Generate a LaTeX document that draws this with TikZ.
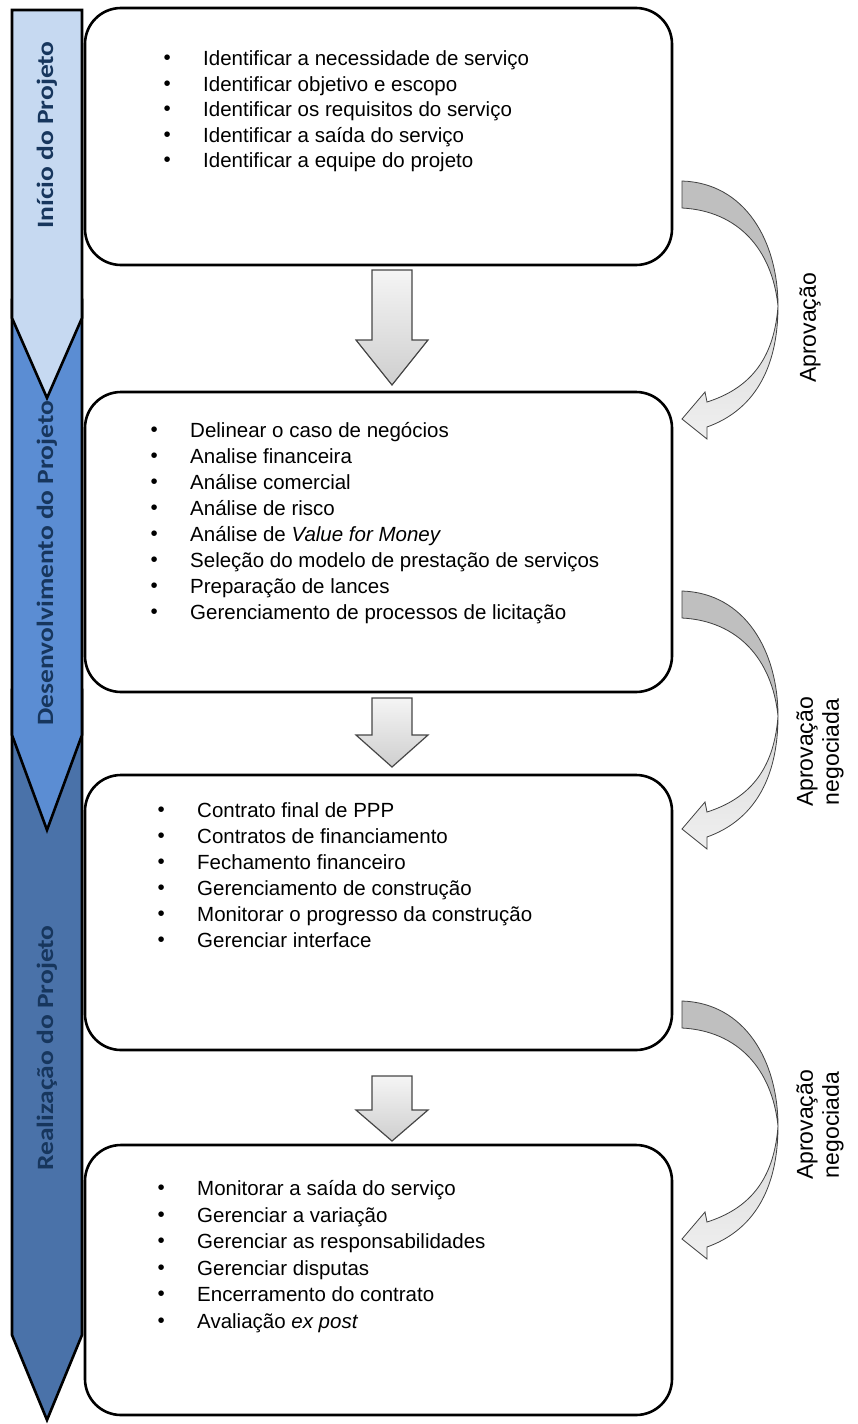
\documentclass[tikz,border=0pt]{standalone}
\usepackage{fontspec}
\setmainfont{Liberation Sans}
\newfontfamily\bandfont{Carlito}
\usepackage{graphicx}
\usepackage{xcolor}
\usepackage{tikz}
\usetikzlibrary{positioning, calc}

\definecolor{bandlight}{HTML}{C6D9F1}
\definecolor{bandmid}{HTML}{5B8DD3}
\definecolor{banddark}{HTML}{4A72A9}
\definecolor{bandtext}{HTML}{17365D}

\newcommand{\phasetext}[1]{\scalebox{1}[0.85]{#1}}

\tikzset{
  band/.style={draw=black, line width=2.6pt},
  bandlabel/.style={rotate=90, text=bandtext, inner sep=0pt, font=\bandfont\bfseries\fontsize{27.5}{32}\selectfont},
  panel/.style={draw=black, line width=2.6pt, rounded corners=36pt, fill=white, inner sep=0pt, minimum width=587pt},
  item/.style={anchor=west, inner sep=0pt, text height=15pt, text depth=4pt,
    font=\fontsize{20.5}{25}\selectfont,
    label={[inner sep=0pt, label distance=32pt, font=\fontsize{20.5}{25}\selectfont]left:\textbullet}},
  blockarrow/.style={draw=gray!55!black, line width=1.2pt, line join=miter, top color=gray!8, bottom color=gray!38},
  backside/.style={draw=black!75, line width=0.8pt, fill=gray!50},
  frontside/.style={draw=black!75, line width=0.8pt, top color=gray!30, bottom color=gray!12},
  approval/.style={rotate=90, align=center, font=\fontsize{23}{26}\selectfont}
}

% curved arrow at the right, #1 = top of its tail
\newcommand{\bentarrow}[1]{%
  \begin{scope}[shift={(0,#1)}]
    \draw[backside] (682,0) .. controls (745,2) and (778,60) .. (778,125)
      .. controls (772,68) and (738,30) .. (682,27) -- cycle;
    \draw[frontside] (778,125) .. controls (778,190) and (752,230) .. (707,246)
      -- (707,258) -- (682,238) -- (705,211) -- (707,221)
      .. controls (748,208) and (774,180) .. (778,125) -- cycle;
  \end{scope}}

\begin{document}
\begin{tikzpicture}[x=1pt, y=-1pt]
    \useasboundingbox (0,0) rectangle (857,1424);
    % phase band on the left
    \draw[band, fill=banddark] (12,690) -- (82,690) -- (82,1335) -- (47,1420) -- (12,1335) -- cycle;
    \draw[band, fill=bandmid] (12,300) -- (82,300) -- (82,735) -- (47,830) -- (12,735) -- cycle;
    \draw[band, fill=bandlight] (12,10) -- (82,10) -- (82,318) -- (47,398) -- (12,318) -- cycle;
    \node[bandlabel] (phase1) at (47,135) {\phasetext{Início do Projeto}};
    \node[bandlabel] (phase2) at (47,563) {\phasetext{Desenvolvimento do Projeto}};
    \node[bandlabel] (phase3) at (47,1048) {\phasetext{Realização do Projeto}};

    % boxes
    \node[panel, minimum height=257pt] (start) at (378.5,136.5) {};
    \node[panel, minimum height=300pt] (develop) at (378.5,542) {};
    \node[panel, minimum height=275pt] (build) at (378.5,912.5) {};
    \node[panel, minimum height=270pt] (operate) at (378.5,1280) {};

    % tasks
    \foreach \txt [count=\i from 0] in {Identificar a necessidade de serviço,
        Identificar objetivo e escopo, Identificar os requisitos do serviço,
        Identificar a saída do serviço, Identificar a equipe do projeto}
      \node[item] (start\i) at (203,60+25.5*\i) {\txt};
    \foreach \txt [count=\i from 0] in {Delinear o caso de negócios, Analise financeira,
        Análise comercial, Análise de risco, {Análise de \textit{Value for Money}},
        Seleção do modelo de prestação de serviços, Preparação de lances,
        Gerenciamento de processos de licitação}
      \node[item] (develop\i) at (190,432+26*\i) {\txt};
    \foreach \txt [count=\i from 0] in {Contrato final de PPP, Contratos de financiamento,
        Fechamento financeiro, Gerenciamento de construção,
        Monitorar o progresso da construção, Gerenciar interface}
      \node[item] (build\i) at (197,812+26*\i) {\txt};
    \foreach \txt [count=\i from 0] in {Monitorar a saída do serviço, Gerenciar a variação,
        Gerenciar as responsabilidades, Gerenciar disputas,
        Encerramento do contrato, {Avaliação \textit{ex post}}}
      \node[item] (operate\i) at (197,1190+26.5*\i) {\txt};

    % down arrows between boxes
    \draw[blockarrow] (372,270) -- (412,270) -- (412,340) -- (428,340) -- (392,385) -- (356,340) -- (372,340) -- cycle;
    \draw[blockarrow] (372,698) -- (412,698) -- (412,735) -- (428,735) -- (392,767) -- (356,735) -- (372,735) -- cycle;
    \draw[blockarrow] (372,1076) -- (412,1076) -- (412,1110) -- (428,1110) -- (392,1141) -- (356,1110) -- (372,1110) -- cycle;

    % approval arrows on the right
    \bentarrow{181}
    \bentarrow{591}
    \bentarrow{1001}
    \node[approval] (appr1) at (810,328) {Aprovação};
    \node[approval] (appr2) at (820,752) {Aprovação\\negociada};
    \node[approval] (appr3) at (820,1125) {Aprovação\\negociada};
\end{tikzpicture}
\end{document}
